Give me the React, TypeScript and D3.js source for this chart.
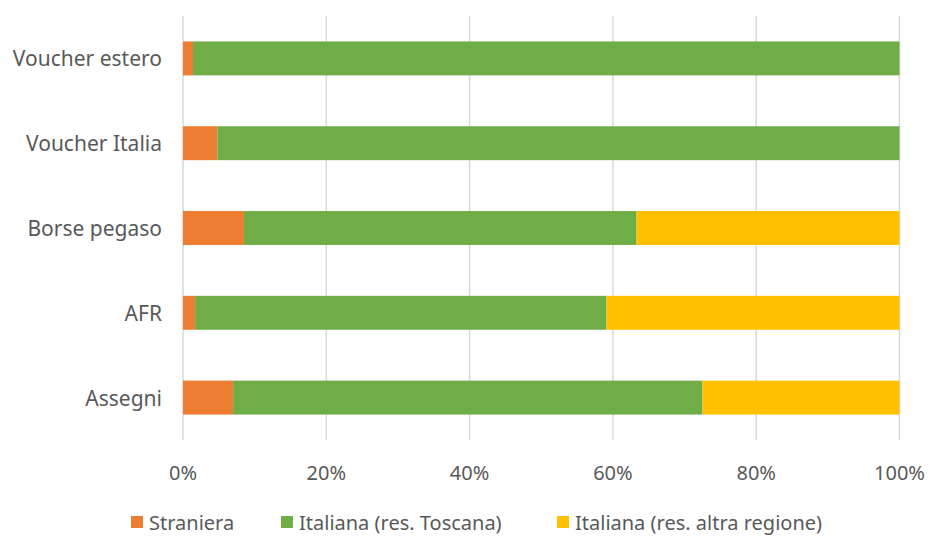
import React from "react";
import * as d3 from "d3";

const categories = ["Voucher estero", "Voucher Italia", "Borse pegaso", "AFR", "Assegni"];
const seriesNames = ["Straniera", "Italiana (res. Toscana)", "Italiana (res. altra regione)"];
const seriesColors = ["#ED7D31", "#70AD47", "#FFC000"];
const straniera = [0.014, 0.048, 0.085, 0.017, 0.07];
const toscana = [0.986, 0.952, 0.548, 0.574, 0.655];
const altraRegione = [0, 0, 0.367, 0.409, 0.275];
const ticks = [0, 0.2, 0.4, 0.6, 0.8, 1];
const legendX = [131, 281, 557];

const W = 930;
const H = 536;
const FONT = "'Noto Sans', sans-serif";
const TEXT = "#595959";

export default function App() {
  const x = d3.scaleLinear().domain([0, 1]).range([183, 899.5]);
  const y = d3.scaleBand<string>().domain(categories).range([16, 440]).paddingInner(0.6).paddingOuter(0.3);
  const table = categories.map((c, i) => ({ cat: c, s0: straniera[i], s1: toscana[i], s2: altraRegione[i] }));
  const stack = d3.stack<any>().keys(["s0", "s1", "s2"])(table);
  const fmt = d3.format(".0%");

  return (
    <svg width={W} height={H} style={{ position: "absolute", left: 0, top: 0, background: "#fff" }}>
      {ticks.map((t) => (
        <line key={t} x1={x(t)} x2={x(t)} y1={16} y2={440} stroke="#d9d9d9" strokeWidth={1.5} />
      ))}
      {stack.map((layer, li) => (
        <g key={li} fill={seriesColors[li]}>
          {layer.map((d, i) => (
            <rect
              key={i}
              x={x(d[0])}
              y={y(categories[i])}
              width={Math.max(0, x(d[1]) - x(d[0]))}
              height={y.bandwidth()}
            />
          ))}
        </g>
      ))}
      {categories.map((c) => (
        <text
          key={c}
          x={162}
          y={(y(c) as number) + y.bandwidth() / 2}
          textAnchor="end"
          dominantBaseline="central"
          fontFamily={FONT}
          fontSize={21}
          fill={TEXT}
        >
          {c}
        </text>
      ))}
      {ticks.map((t) => (
        <text
          key={t}
          x={x(t)}
          y={472}
          textAnchor="middle"
          dominantBaseline="central"
          fontFamily={FONT}
          fontSize={20}
          fill={TEXT}
        >
          {fmt(t)}
        </text>
      ))}
      {seriesNames.map((n, i) => (
        <g key={n}>
          <rect x={legendX[i]} y={516} width={12} height={12} fill={seriesColors[i]} />
          <text
            x={legendX[i] + 18}
            y={522}
            dominantBaseline="central"
            fontFamily={FONT}
            fontSize={20}
            fill={TEXT}
          >
            {n}
          </text>
        </g>
      ))}
    </svg>
  );
}
